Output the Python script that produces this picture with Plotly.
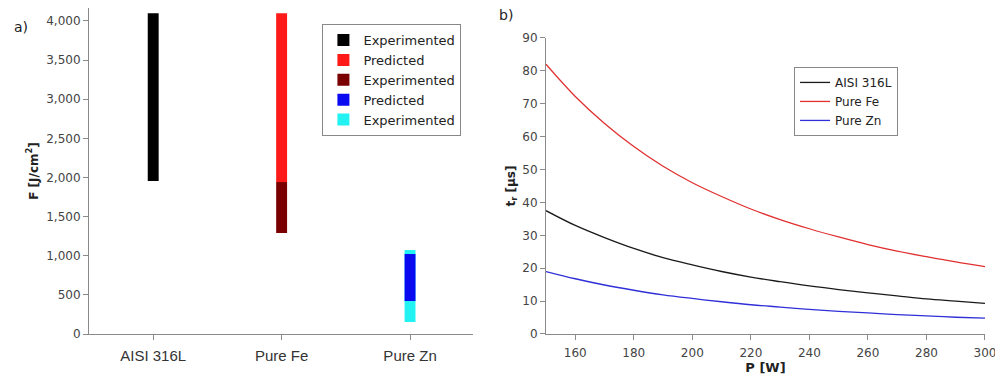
import plotly.graph_objects as go

# ---- Panel a) data ----
materials = ["AISI 316L", "Pure Fe", "Pure Zn"]
seg_names = ["Experimented", "Predicted", "Experimented", "Experimented", "Predicted"]
seg_material = ["AISI 316L", "Pure Fe", "Pure Fe", "Pure Zn", "Pure Zn"]
seg_low = [1955, 1942, 1291, 153, 422]
seg_high = [4100, 4100, 1942, 1073, 1022]
seg_colors = ["#000000", "#ff1a1a", "#7a0000", "#22f2f2", "#0a0af0"]
seg_rank = [1, 2, 3, 5, 4]

# ---- Panel b) data ----
power = [150, 160, 170, 180, 190, 200, 210, 220, 230, 240, 250, 260, 270, 280, 290, 300]
t_aisi = [37.5, 33.0, 29.3, 26.0, 23.2, 21.0, 19.0, 17.3, 15.9, 14.6, 13.5, 12.5, 11.6, 10.7, 10.0, 9.3]
t_fe = [82.0, 72.2, 64.0, 57.0, 51.0, 46.0, 41.8, 38.0, 34.8, 32.0, 29.5, 27.2, 25.2, 23.5, 21.9, 20.5]
t_zn = [19.0, 16.8, 14.9, 13.3, 11.9, 10.8, 9.8, 8.9, 8.2, 7.5, 6.9, 6.4, 5.9, 5.5, 5.1, 4.8]
line_names = ["AISI 316L", "Pure Fe", "Pure Zn"]
line_colors = ["#1a1a1a", "#e03030", "#3030d8"]

fig = go.Figure()

for name, mat, lo, hi, col, rk in zip(seg_names, seg_material, seg_low, seg_high, seg_colors, seg_rank):
    fig.add_trace(go.Bar(
        x=[mat], y=[hi - lo], base=[lo], name=name, marker_color=col,
        marker_line_width=0, width=0.085, legendrank=rk,
        xaxis="x", yaxis="y", legend="legend",
    ))

for name, ys, col in zip(line_names, [t_aisi, t_fe, t_zn], line_colors):
    fig.add_trace(go.Scatter(
        x=power, y=ys, mode="lines", name=name, line=dict(color=col, width=1.3, shape="spline"),
        xaxis="x2", yaxis="y2", legend="legend2",
    ))

tickfont = dict(family="DejaVu Sans", size=12, color="#444444")
axcommon = dict(showline=True, linecolor="#8a8a8a", linewidth=1, ticks="outside",
                ticklen=5, tickcolor="#8a8a8a", showgrid=False, zeroline=False,
                tickfont=tickfont, automargin=False)

W, H = 995, 373

fig.update_layout(
    width=W, height=H,
    autosize=False,
    margin=dict(l=0, r=0, t=0, b=0, pad=0),
    paper_bgcolor="white", plot_bgcolor="white",
    barmode="overlay",
    xaxis=dict(domain=[0.0814, 0.4673], anchor="y", type="category",
               categoryorder="array", categoryarray=materials,
               range=[-0.5, 2.49], ticklabelstandoff=3,
               **{**axcommon, "tickfont": dict(family="Liberation Sans", size=15, color="#333333")}),
    yaxis=dict(domain=[0.126, 1.0], anchor="x", range=[0, 4166],
               tickvals=[0, 500, 1000, 1500, 2000, 2500, 3000, 3500, 4000],
               tickformat=",d",
               title=dict(text="<b>F [J/cm<sup>2</sup>]</b>", standoff=5,
                          font=dict(family="DejaVu Sans", size=12, color="#222222")),
               **axcommon),
    xaxis2=dict(domain=[0.5407, 0.9819], anchor="y2", range=[150, 300],
                tickvals=[160, 180, 200, 220, 240, 260, 280, 300],
                ticklabelstandoff=3,
                title=dict(text="<b>P [W]</b>", standoff=0,
                           font=dict(family="DejaVu Sans", size=13, color="#222222")),
                **axcommon),
    yaxis2=dict(domain=[0.126, 0.9196], anchor="x2", range=[0, 90],
                tickvals=[0, 10, 20, 30, 40, 50, 60, 70, 80, 90],
                title=dict(text="<b>t<sub>r</sub> [µs]</b>", standoff=4,
                           font=dict(family="DejaVu Sans", size=12, color="#222222")),
                **axcommon),
    legend=dict(x=0.316, y=0.957, xanchor="left", yanchor="top",
                bgcolor="white", bordercolor="#888888", borderwidth=1,
                font=dict(family="DejaVu Sans", size=13, color="#222222"),
                tracegroupgap=0, itemwidth=30),
    legend2=dict(x=0.79, y=0.842, xanchor="left", yanchor="top",
                 bgcolor="white", bordercolor="#888888", borderwidth=1,
                 font=dict(family="DejaVu Sans", size=12, color="#222222"),
                 itemwidth=30),
    annotations=[
        dict(text="a)", x=0.004, y=0.949, xref="paper", yref="paper", showarrow=False,
             xanchor="left", yanchor="middle", font=dict(family="DejaVu Sans", size=14, color="#222222")),
        dict(text="b)", x=0.491, y=0.981, xref="paper", yref="paper", showarrow=False,
             xanchor="left", yanchor="middle", font=dict(family="DejaVu Sans", size=14, color="#222222")),
    ],
)

fig.write_html("out.html")
